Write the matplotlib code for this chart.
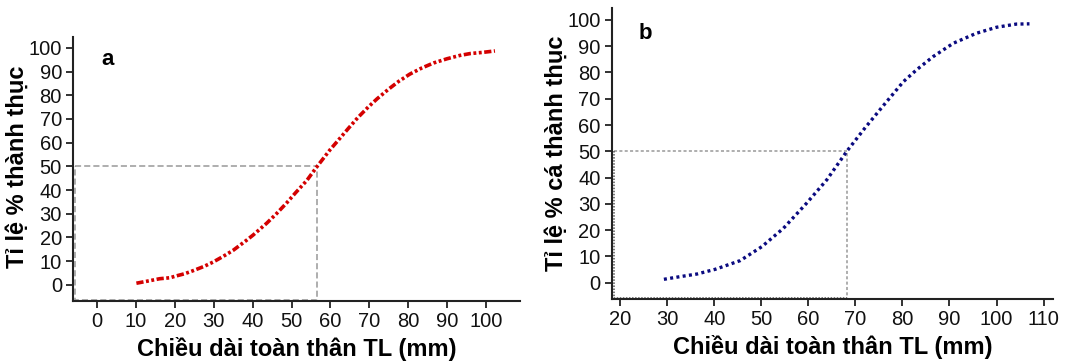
import matplotlib
matplotlib.use("Agg")
import matplotlib.pyplot as plt

plt.rcParams['font.family'] = ['Liberation Sans', 'DejaVu Sans']

# Panel a data
len_a = [10.1, 13.0, 16.1, 18.7, 20.4, 22.5, 24.7, 27.5, 29.8, 32.4, 35.0, 38.4,
         40.1, 43.6, 46.1, 48.7, 51.0, 53.9, 56.5, 59.9, 62.0, 64.6, 67.0,
         69.7, 72.0, 74.9, 77.5, 80.4, 83.5, 86.5, 90.0, 93.3, 96.0, 99.3, 102.3]
pct_a = [0.7, 1.6, 2.6, 3.0, 3.8, 4.7, 6.0, 7.8, 9.6, 12.0, 14.6, 18.8,
         21.0, 26.0, 30.0, 34.5, 38.8, 44.0, 49.8, 57.0, 61.0, 66.0, 70.5,
         75.0, 78.5, 82.5, 85.8, 88.9, 91.5, 93.6, 95.4, 96.8, 97.6, 98.1, 98.7]
l50_a = 56.5

# Panel b data
len_b = [29.3, 32.7, 36.3, 40.2, 45.5, 50.1, 54.7, 59.6, 63.9, 68.3, 72.0, 75.9,
         80.2, 83.0, 86.5, 90.8, 95.7, 100.0, 104.2, 107.0]
pct_b = [1.3, 2.3, 3.3, 5.1, 8.4, 13.7, 20.7, 30.2, 39.1, 50.3, 58.8, 67.3,
         76.5, 81.0, 86.0, 91.1, 94.9, 97.2, 98.4, 98.5]
l50_b = 68.3

yticks = list(range(0, 101, 10))
xticks_a = list(range(0, 101, 10))
xticks_b = list(range(20, 111, 10))

xlabel = "Chiều dài toàn thân TL (mm)"
ylabel_a = "Tỉ lệ % thành thục"
ylabel_b = "Tỉ lệ % cá thành thục"

fig = plt.figure(figsize=(10.83, 3.62), dpi=100)
ax1 = fig.add_axes([0.0674, 0.1685, 0.4126, 0.7295])
ax2 = fig.add_axes([0.5648, 0.174, 0.4075, 0.803])


def style(ax, xlim, ylim, xticks):
    ax.set_xlim(*xlim)
    ax.set_ylim(*ylim)
    for s in ['top', 'right']:
        ax.spines[s].set_visible(False)
    for s in ['left', 'bottom']:
        ax.spines[s].set_linewidth(1.5)
        ax.spines[s].set_color('#222222')
    ax.set_xticks(xticks)
    ax.set_yticks(yticks)
    ax.tick_params(axis='both', direction='out', length=5, width=1.3,
                   labelsize=14.5, colors='#222222', labelcolor='#111111',
                   pad=3)
    ax.set_xlabel(xlabel, fontsize=17, fontweight='bold', labelpad=4)


# Panel a
xl_a = (-6.2, 108.7)
yl_a = (-6.8, 104.6)
style(ax1, xl_a, yl_a, xticks_a)
ax1.set_ylabel(ylabel_a, fontsize=17, fontweight='bold')
ax1.yaxis.set_label_coords(-0.098, 0.51)
x0 = xl_a[0] + 0.6
y0 = yl_a[0] + 0.6
ax1.plot([x0, l50_a, l50_a, x0, x0], [50, 50, y0, y0, 50],
         color='#999999', lw=1.1, ls=(0, (4, 2)), zorder=1)
ax1.plot(len_a, pct_a, color='#d40000', lw=2.6,
         ls=(0, (2, 0.7, 0.8, 0.7, 0.8, 0.7)), zorder=3)
ax1.text(1.0, 95.0, 'a', fontsize=16, fontweight='bold', ha='left', va='center')

# Panel b
xl_b = (18.2, 112.0)
yl_b = (-6.2, 104.4)
style(ax2, xl_b, yl_b, xticks_b)
ax2.set_ylabel(ylabel_b, fontsize=17, fontweight='bold')
ax2.yaxis.set_label_coords(-0.1, 0.5)
x0 = xl_b[0] + 0.4
y0 = yl_b[0] + 0.5
ax2.plot([x0, l50_b, l50_b], [50, 50, y0],
         color='#999999', lw=1.1, ls=(0, (2, 1.5)), zorder=1)
ax2.plot([x0, x0, l50_b], [50, y0, y0],
         color='#555555', lw=1.1, ls=(0, (1, 1)), zorder=1)
ax2.plot(len_b, pct_b, color='#0a0a80', lw=2.4, ls=(0, (0.9, 1.0)),
         zorder=3)
ax2.text(24.0, 95.0, 'b', fontsize=16, fontweight='bold', ha='left',
         va='center')

fig.savefig('out.png', dpi=100)
